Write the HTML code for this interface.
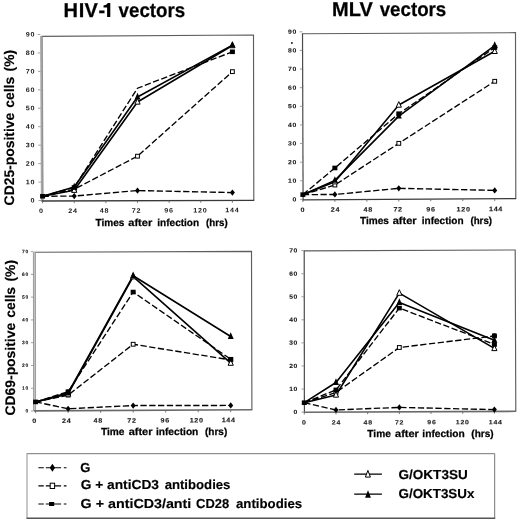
<!DOCTYPE html>
<html><head><meta charset="utf-8"><title>Figure</title>
<style>
html,body{margin:0;padding:0;background:#fff;}
body{width:520px;height:523px;overflow:hidden;font-family:"Liberation Sans",sans-serif;}
svg{display:block;will-change:transform;}
text{font-family:"Liberation Sans",sans-serif;fill:#000;text-rendering:geometricPrecision;}
.tk{font-weight:bold;fill:#1a1a1a;letter-spacing:0.65px;}
.tkb{stroke:#111;stroke-width:0.1px;}
.ti{font-weight:bold;font-size:20px;stroke:#000;stroke-width:0.25px;}
.ax{font-weight:bold;font-size:10.2px;stroke:#000;stroke-width:0.25px;}
.yl{font-weight:bold;font-size:13.9px;stroke:#000;stroke-width:0.15px;}
.lg{font-weight:bold;font-size:13px;stroke:#000;stroke-width:0.15px;}
.ds{fill:none;stroke:#000;stroke-width:1.35;stroke-dasharray:6.3 2.5;}
.sl{fill:none;stroke:#000;stroke-width:1.6;stroke-linejoin:round;}
</style></head><body>
<svg width="520" height="523" viewBox="0 0 520 523">
<rect width="520" height="523" fill="#fff"/>
<g transform="rotate(0.02)"><text x="63.5" y="17.1" class="ti">H<tspan dx="0.8">I</tspan><tspan dx="0.3">V</tspan><tspan dx="1.7">-</tspan></text></g>
<path d="M110.3 2.9V17.1H107.1V7.5H103.5V5.4Q106.7 5 107.9 2.9Z" fill="#000"/>
<g transform="rotate(0.02)"><text x="118.6" y="17.1" class="ti" textLength="66.6" lengthAdjust="spacingAndGlyphs">vectors</text></g>
<g transform="rotate(0.02)"><text x="332.1" y="16" class="ti">MLV</text></g>
<g transform="rotate(0.02)"><text x="379.7" y="16" class="ti" textLength="66.6" lengthAdjust="spacingAndGlyphs">vectors</text></g>
<text class="yl" transform="translate(13.8 205.4) rotate(-90.02)" >CD25-positive <tspan dx="1.2">cells </tspan><tspan dx="1.5">(%)</tspan></text>
<text class="yl" transform="translate(15 415.5) rotate(-90.02)" >CD69-positive <tspan dx="1.2">cells </tspan><tspan dx="1.5">(%)</tspan></text>
<g transform="rotate(0.02)"><text x="95.60" y="225.50" class="ax" textLength="28.90" lengthAdjust="spacingAndGlyphs">Times</text></g>
<g transform="rotate(0.02)"><text x="128.40" y="225.50" class="ax" textLength="23.90" lengthAdjust="spacingAndGlyphs">after</text></g>
<g transform="rotate(0.02)"><text x="157.40" y="225.50" class="ax" textLength="41.80" lengthAdjust="spacingAndGlyphs">infection</text></g>
<g transform="rotate(0.02)"><text x="206.10" y="225.50" class="ax" textLength="21.60" lengthAdjust="spacingAndGlyphs">(hrs)</text></g>
<g transform="rotate(0.02)"><text x="360.00" y="223.80" class="ax" textLength="28.90" lengthAdjust="spacingAndGlyphs">Times</text></g>
<g transform="rotate(0.02)"><text x="392.80" y="223.80" class="ax" textLength="23.90" lengthAdjust="spacingAndGlyphs">after</text></g>
<g transform="rotate(0.02)"><text x="421.80" y="223.80" class="ax" textLength="41.80" lengthAdjust="spacingAndGlyphs">infection</text></g>
<g transform="rotate(0.02)"><text x="470.50" y="223.80" class="ax" textLength="21.60" lengthAdjust="spacingAndGlyphs">(hrs)</text></g>
<g transform="rotate(0.02)"><text x="101.10" y="434.60" class="ax" textLength="23.50" lengthAdjust="spacingAndGlyphs">Time</text></g>
<g transform="rotate(0.02)"><text x="128.80" y="434.60" class="ax" textLength="23.80" lengthAdjust="spacingAndGlyphs">after</text></g>
<g transform="rotate(0.02)"><text x="156.10" y="434.60" class="ax" textLength="42.40" lengthAdjust="spacingAndGlyphs">infection</text></g>
<g transform="rotate(0.02)"><text x="205.10" y="434.60" class="ax" textLength="22.30" lengthAdjust="spacingAndGlyphs">(hrs)</text></g>
<g transform="rotate(0.02)"><text x="367.50" y="436.60" class="ax" textLength="23.50" lengthAdjust="spacingAndGlyphs">Time</text></g>
<g transform="rotate(0.02)"><text x="395.20" y="436.60" class="ax" textLength="23.80" lengthAdjust="spacingAndGlyphs">after</text></g>
<g transform="rotate(0.02)"><text x="422.50" y="436.60" class="ax" textLength="42.40" lengthAdjust="spacingAndGlyphs">infection</text></g>
<g transform="rotate(0.02)"><text x="471.50" y="436.60" class="ax" textLength="22.30" lengthAdjust="spacingAndGlyphs">(hrs)</text></g>
<g id="plotA">
<path d="M41.3 36.4L253.5 35L253.8 200.4" fill="none" stroke="#5e5e5e" stroke-width="1.15"/>
<path d="M41.3 36L42.1 201.4" fill="none" stroke="#a6a6a6" stroke-width="2.4"/>
<path d="M42.3 36.4L43.1 201" fill="none" stroke="#7c7c7c" stroke-width="0.7"/>
<path d="M41.6 201L254.2 200.4" fill="none" stroke="#3a3a3a" stroke-width="1.3"/>
<path d="M42.6 201v2.2" stroke="#666" stroke-width="0.9"/>
<path d="M74.23 200.91v2.2" stroke="#666" stroke-width="0.9"/>
<path d="M105.86 200.82v2.2" stroke="#666" stroke-width="0.9"/>
<path d="M137.5 200.73v2.2" stroke="#666" stroke-width="0.9"/>
<path d="M169.13 200.64v2.2" stroke="#666" stroke-width="0.9"/>
<path d="M200.76 200.55v2.2" stroke="#666" stroke-width="0.9"/>
<path d="M232.39 200.46v2.2" stroke="#666" stroke-width="0.9"/>
<path d="M41.1 200.5h-2.6" stroke="#888" stroke-width="0.8"/>
<path d="M41.01 182.05h-2.6" stroke="#888" stroke-width="0.8"/>
<path d="M40.92 163.6h-2.6" stroke="#888" stroke-width="0.8"/>
<path d="M40.83 145.15h-2.6" stroke="#888" stroke-width="0.8"/>
<path d="M40.74 126.7h-2.6" stroke="#888" stroke-width="0.8"/>
<path d="M40.66 108.25h-2.6" stroke="#888" stroke-width="0.8"/>
<path d="M40.57 89.8h-2.6" stroke="#888" stroke-width="0.8"/>
<path d="M40.48 71.35h-2.6" stroke="#888" stroke-width="0.8"/>
<path d="M40.39 52.9h-2.6" stroke="#888" stroke-width="0.8"/>
<path d="M40.3 34.45h-2.6" stroke="#888" stroke-width="0.8"/>
<text transform="translate(35.2 202.6) rotate(0.03) scale(1.12 1)" font-size="6.4" text-anchor="end" class="tk">0</text>
<text transform="translate(35.2 184.15) rotate(0.03) scale(1.12 1)" font-size="6.4" text-anchor="end" class="tk">10</text>
<text transform="translate(35.2 165.7) rotate(0.03) scale(1.12 1)" font-size="6.4" text-anchor="end" class="tk">20</text>
<text transform="translate(35.2 147.25) rotate(0.03) scale(1.12 1)" font-size="6.4" text-anchor="end" class="tk">30</text>
<text transform="translate(35.2 128.8) rotate(0.03) scale(1.12 1)" font-size="6.4" text-anchor="end" class="tk">40</text>
<text transform="translate(35.2 110.35) rotate(0.03) scale(1.12 1)" font-size="6.4" text-anchor="end" class="tk">50</text>
<text transform="translate(35.2 91.9) rotate(0.03) scale(1.12 1)" font-size="6.4" text-anchor="end" class="tk">60</text>
<text transform="translate(35.2 73.45) rotate(0.03) scale(1.12 1)" font-size="6.4" text-anchor="end" class="tk">70</text>
<text transform="translate(35.2 55) rotate(0.03) scale(1.12 1)" font-size="6.4" text-anchor="end" class="tk">80</text>
<text transform="translate(35.2 36.55) rotate(0.03) scale(1.12 1)" font-size="6.4" text-anchor="end" class="tk">90</text>
<text transform="translate(41.3 213.1) rotate(0.03) scale(1.12 1)" font-size="6.4" text-anchor="middle" class="tk">0</text>
<text transform="translate(72.9 212.97) rotate(0.03) scale(1.12 1)" font-size="6.4" text-anchor="middle" class="tk">24</text>
<text transform="translate(104.4 212.84) rotate(0.03) scale(1.12 1)" font-size="6.4" text-anchor="middle" class="tk">48</text>
<text transform="translate(136.4 212.7) rotate(0.03) scale(1.12 1)" font-size="6.4" text-anchor="middle" class="tk">72</text>
<text transform="translate(168.9 212.57) rotate(0.03) scale(1.12 1)" font-size="6.4" text-anchor="middle" class="tk">96</text>
<text transform="translate(200.4 212.44) rotate(0.03) scale(1.12 1)" font-size="6.4" text-anchor="middle" class="tk">120</text>
<text transform="translate(232.4 212.3) rotate(0.03) scale(1.12 1)" font-size="6.4" text-anchor="middle" class="tk">144</text>
<path d="M42.6 196.26L74.23 196.07L137.5 190.56L232.39 192.58" class="ds"/>
<path d="M42.6 196.26L74.23 189.27L137.5 156.19L232.39 71.64" class="ds"/>
<path d="M42.6 196.26L74.23 187.43L137.5 88.18L232.39 51.79" class="ds"/>
<path d="M42.6 196.26L74.23 190.19L137.5 101.97L232.39 45.54" class="sl"/>
<path d="M42.6 196.26L74.23 187.07L137.5 97L232.39 45.17" class="sl"/>
<path d="M71.73 196.07L74.23 192.97L76.73 196.07L74.23 199.17Z" fill="#000"/>
<path d="M135 190.56L137.5 187.46L140 190.56L137.5 193.66Z" fill="#000"/>
<path d="M229.89 192.58L232.39 189.48L234.89 192.58L232.39 195.68Z" fill="#000"/>
<rect x="72.33" y="187.37" width="3.8" height="3.8" fill="#fff" stroke="#000" stroke-width="1"/>
<rect x="135.6" y="154.29" width="3.8" height="3.8" fill="#fff" stroke="#000" stroke-width="1"/>
<rect x="230.49" y="69.74" width="3.8" height="3.8" fill="#fff" stroke="#000" stroke-width="1"/>
<path d="M74.23 186.79L76.83 192.39L71.63 192.39Z" fill="#fff" stroke="#000" stroke-width="1"/>
<path d="M137.5 98.57L140.1 104.17L134.9 104.17Z" fill="#fff" stroke="#000" stroke-width="1"/>
<path d="M232.39 42.14L234.99 47.74L229.79 47.74Z" fill="#fff" stroke="#000" stroke-width="1"/>
<path d="M74.23 182.87L77.23 189.47L71.23 189.47Z" fill="#000"/>
<path d="M137.5 92.8L140.5 99.4L134.5 99.4Z" fill="#000"/>
<path d="M232.39 40.97L235.39 47.57L229.39 47.57Z" fill="#000"/>
<rect x="40.1" y="193.96" width="5" height="4.6" fill="#000"/>
<rect x="71.73" y="185.13" width="5" height="4.6" fill="#000"/>
<rect x="229.89" y="49.49" width="5" height="4.6" fill="#000"/>
</g>
<g id="plotB">
<path d="M302.5 33.7L515.5 32.7L515.8 198.6" fill="none" stroke="#5e5e5e" stroke-width="1.15"/>
<path d="M302.5 33.3L303.1 200.2" fill="none" stroke="#4a4a4a" stroke-width="1.2"/>
<path d="M302.6 199.8L516.2 198.6" fill="none" stroke="#3a3a3a" stroke-width="1.3"/>
<path d="M302.9 199.8v2.2" stroke="#666" stroke-width="0.9"/>
<path d="M334.87 199.62v2.2" stroke="#666" stroke-width="0.9"/>
<path d="M366.84 199.44v2.2" stroke="#666" stroke-width="0.9"/>
<path d="M398.8 199.26v2.2" stroke="#666" stroke-width="0.9"/>
<path d="M430.77 199.08v2.2" stroke="#666" stroke-width="0.9"/>
<path d="M462.74 198.9v2.2" stroke="#666" stroke-width="0.9"/>
<path d="M494.71 198.72v2.2" stroke="#666" stroke-width="0.9"/>
<path d="M302.8 199.4h-2.6" stroke="#888" stroke-width="0.8"/>
<path d="M302.73 180.78h-2.6" stroke="#888" stroke-width="0.8"/>
<path d="M302.67 162.16h-2.6" stroke="#888" stroke-width="0.8"/>
<path d="M302.6 143.54h-2.6" stroke="#888" stroke-width="0.8"/>
<path d="M302.53 124.92h-2.6" stroke="#888" stroke-width="0.8"/>
<path d="M302.47 106.3h-2.6" stroke="#888" stroke-width="0.8"/>
<path d="M302.4 87.68h-2.6" stroke="#888" stroke-width="0.8"/>
<path d="M302.33 69.06h-2.6" stroke="#888" stroke-width="0.8"/>
<path d="M302.27 50.44h-2.6" stroke="#888" stroke-width="0.8"/>
<path d="M302.2 31.82h-2.6" stroke="#888" stroke-width="0.8"/>
<text transform="translate(297 201.4) rotate(0.03) scale(1.12 1)" font-size="6.1" text-anchor="end" class="tk tkb">0</text>
<text transform="translate(297 182.78) rotate(0.03) scale(1.12 1)" font-size="6.1" text-anchor="end" class="tk tkb">10</text>
<text transform="translate(297 164.16) rotate(0.03) scale(1.12 1)" font-size="6.1" text-anchor="end" class="tk tkb">20</text>
<text transform="translate(297 145.54) rotate(0.03) scale(1.12 1)" font-size="6.1" text-anchor="end" class="tk tkb">30</text>
<text transform="translate(297 126.92) rotate(0.03) scale(1.12 1)" font-size="6.1" text-anchor="end" class="tk tkb">40</text>
<text transform="translate(297 108.3) rotate(0.03) scale(1.12 1)" font-size="6.1" text-anchor="end" class="tk tkb">50</text>
<text transform="translate(297 89.68) rotate(0.03) scale(1.12 1)" font-size="6.1" text-anchor="end" class="tk tkb">60</text>
<text transform="translate(297 71.06) rotate(0.03) scale(1.12 1)" font-size="6.1" text-anchor="end" class="tk tkb">70</text>
<text transform="translate(297 52.44) rotate(0.03) scale(1.12 1)" font-size="6.1" text-anchor="end" class="tk tkb">80</text>
<text transform="translate(297 33.82) rotate(0.03) scale(1.12 1)" font-size="6.1" text-anchor="end" class="tk tkb">90</text>
<text transform="translate(302.9 211.9) rotate(0.03) scale(1.12 1)" font-size="6.4" text-anchor="middle" class="tk tkb">0</text>
<text transform="translate(335.4 211.8) rotate(0.03) scale(1.12 1)" font-size="6.4" text-anchor="middle" class="tk tkb">24</text>
<text transform="translate(368.2 211.7) rotate(0.03) scale(1.12 1)" font-size="6.4" text-anchor="middle" class="tk tkb">48</text>
<text transform="translate(398.1 211.6) rotate(0.03) scale(1.12 1)" font-size="6.4" text-anchor="middle" class="tk tkb">72</text>
<text transform="translate(431 211.5) rotate(0.03) scale(1.12 1)" font-size="6.4" text-anchor="middle" class="tk tkb">96</text>
<text transform="translate(463.6 211.4) rotate(0.03) scale(1.12 1)" font-size="6.4" text-anchor="middle" class="tk tkb">120</text>
<text transform="translate(496 211.3) rotate(0.03) scale(1.12 1)" font-size="6.4" text-anchor="middle" class="tk tkb">144</text>
<path d="M302.9 194.64L334.87 194.46L398.8 188.34L494.71 190.38" class="ds"/>
<path d="M302.9 194.64L334.87 185.01L398.8 143.34L494.71 81.3" class="ds"/>
<path d="M302.9 194.64L334.87 167.97L398.8 113.71L494.71 47.59" class="ds"/>
<path d="M302.9 194.64L334.87 181.68L398.8 105L494.71 51.3" class="sl"/>
<path d="M302.9 194.64L334.87 180.38L398.8 116.12L494.71 45.55" class="sl"/>
<path d="M332.37 194.46L334.87 191.36L337.37 194.46L334.87 197.56Z" fill="#000"/>
<path d="M396.3 188.34L398.8 185.24L401.3 188.34L398.8 191.44Z" fill="#000"/>
<path d="M492.21 190.38L494.71 187.28L497.21 190.38L494.71 193.48Z" fill="#000"/>
<rect x="332.97" y="183.11" width="3.8" height="3.8" fill="#fff" stroke="#000" stroke-width="1"/>
<rect x="396.9" y="141.44" width="3.8" height="3.8" fill="#fff" stroke="#000" stroke-width="1"/>
<rect x="492.81" y="79.4" width="3.8" height="3.8" fill="#fff" stroke="#000" stroke-width="1"/>
<path d="M334.87 178.28L337.47 183.88L332.27 183.88Z" fill="#fff" stroke="#000" stroke-width="1"/>
<path d="M398.8 101.6L401.4 107.2L396.2 107.2Z" fill="#fff" stroke="#000" stroke-width="1"/>
<path d="M494.71 47.9L497.31 53.5L492.11 53.5Z" fill="#fff" stroke="#000" stroke-width="1"/>
<path d="M334.87 176.18L337.87 182.78L331.87 182.78Z" fill="#000"/>
<path d="M398.8 111.92L401.8 118.52L395.8 118.52Z" fill="#000"/>
<path d="M494.71 41.35L497.71 47.95L491.71 47.95Z" fill="#000"/>
<rect x="300.4" y="192.34" width="5" height="4.6" fill="#000"/>
<rect x="332.37" y="165.67" width="5" height="4.6" fill="#000"/>
<rect x="396.3" y="111.41" width="5" height="4.6" fill="#000"/>
<rect x="492.21" y="45.29" width="5" height="4.6" fill="#000"/>
</g>
<g id="plotC">
<path d="M34.4 252.2L251.5 251.4L251.9 409.8" fill="none" stroke="#5e5e5e" stroke-width="1.15"/>
<path d="M34.4 251.8L34.6 411.3" fill="none" stroke="#c4c4c4" stroke-width="2.4"/>
<path d="M35.4 252.2L35.6 410.9" fill="none" stroke="#858585" stroke-width="0.7"/>
<path d="M33.4 252.2L33.6 410.9" fill="none" stroke="#858585" stroke-width="0.7"/>
<path d="M34.1 410.9L252.3 409.8" fill="none" stroke="#6a6a6a" stroke-width="1.6"/>
<path d="M35.6 410.9v2.2" stroke="#666" stroke-width="0.9"/>
<path d="M68.12 410.73v2.2" stroke="#666" stroke-width="0.9"/>
<path d="M100.64 410.57v2.2" stroke="#666" stroke-width="0.9"/>
<path d="M133.16 410.4v2.2" stroke="#666" stroke-width="0.9"/>
<path d="M165.68 410.24v2.2" stroke="#666" stroke-width="0.9"/>
<path d="M198.2 410.07v2.2" stroke="#666" stroke-width="0.9"/>
<path d="M230.72 409.91v2.2" stroke="#666" stroke-width="0.9"/>
<path d="M33.6 411h-2.6" stroke="#888" stroke-width="0.8"/>
<path d="M33.57 388.23h-2.6" stroke="#888" stroke-width="0.8"/>
<path d="M33.54 365.46h-2.6" stroke="#888" stroke-width="0.8"/>
<path d="M33.51 342.69h-2.6" stroke="#888" stroke-width="0.8"/>
<path d="M33.49 319.92h-2.6" stroke="#888" stroke-width="0.8"/>
<path d="M33.46 297.15h-2.6" stroke="#888" stroke-width="0.8"/>
<path d="M33.43 274.38h-2.6" stroke="#888" stroke-width="0.8"/>
<path d="M33.4 251.61h-2.6" stroke="#888" stroke-width="0.8"/>
<text transform="translate(28.8 412.56) rotate(0.03) scale(1.0 1)" font-size="4.9" text-anchor="end" class="tk tkb">0</text>
<text transform="translate(28.8 389.79) rotate(0.03) scale(1.0 1)" font-size="4.9" text-anchor="end" class="tk tkb">10</text>
<text transform="translate(28.8 367.02) rotate(0.03) scale(1.0 1)" font-size="4.9" text-anchor="end" class="tk tkb">20</text>
<text transform="translate(28.8 344.25) rotate(0.03) scale(1.0 1)" font-size="4.9" text-anchor="end" class="tk tkb">30</text>
<text transform="translate(28.8 321.48) rotate(0.03) scale(1.0 1)" font-size="4.9" text-anchor="end" class="tk tkb">40</text>
<text transform="translate(28.8 298.71) rotate(0.03) scale(1.0 1)" font-size="4.9" text-anchor="end" class="tk tkb">50</text>
<text transform="translate(28.8 275.94) rotate(0.03) scale(1.0 1)" font-size="4.9" text-anchor="end" class="tk tkb">60</text>
<text transform="translate(28.8 253.17) rotate(0.03) scale(1.0 1)" font-size="4.9" text-anchor="end" class="tk tkb">70</text>
<text transform="translate(34.6 423.1) rotate(0.03) scale(1.12 1)" font-size="6.4" text-anchor="middle" class="tk tkb">0</text>
<text transform="translate(66.7 422.97) rotate(0.03) scale(1.12 1)" font-size="6.4" text-anchor="middle" class="tk tkb">24</text>
<text transform="translate(98.2 422.84) rotate(0.03) scale(1.12 1)" font-size="6.4" text-anchor="middle" class="tk tkb">48</text>
<text transform="translate(131.9 422.7) rotate(0.03) scale(1.12 1)" font-size="6.4" text-anchor="middle" class="tk tkb">72</text>
<text transform="translate(165.2 422.57) rotate(0.03) scale(1.12 1)" font-size="6.4" text-anchor="middle" class="tk tkb">96</text>
<text transform="translate(196.7 422.44) rotate(0.03) scale(1.12 1)" font-size="6.4" text-anchor="middle" class="tk tkb">120</text>
<text transform="translate(228.7 422.3) rotate(0.03) scale(1.12 1)" font-size="6.4" text-anchor="middle" class="tk tkb">144</text>
<path d="M35.6 401.92L68.12 408.73L133.16 405.55L230.72 405.44" class="ds"/>
<path d="M35.6 401.92L68.12 395.11L133.16 344.26L230.72 359.93" class="ds"/>
<path d="M35.6 401.92L68.12 391.7L133.16 292.05L230.72 359.24" class="ds"/>
<path d="M35.6 401.92L68.12 393.98L133.16 276.62L230.72 363.1" class="sl"/>
<path d="M35.6 401.92L68.12 392.84L133.16 275.71L230.72 336.54" class="sl"/>
<path d="M65.62 408.73L68.12 405.63L70.62 408.73L68.12 411.83Z" fill="#000"/>
<path d="M130.66 405.55L133.16 402.45L135.66 405.55L133.16 408.65Z" fill="#000"/>
<path d="M228.22 405.44L230.72 402.34L233.22 405.44L230.72 408.54Z" fill="#000"/>
<rect x="66.22" y="393.21" width="3.8" height="3.8" fill="#fff" stroke="#000" stroke-width="1"/>
<rect x="131.26" y="342.36" width="3.8" height="3.8" fill="#fff" stroke="#000" stroke-width="1"/>
<rect x="228.82" y="358.03" width="3.8" height="3.8" fill="#fff" stroke="#000" stroke-width="1"/>
<path d="M68.12 390.58L70.72 396.18L65.52 396.18Z" fill="#fff" stroke="#000" stroke-width="1"/>
<path d="M133.16 273.22L135.76 278.82L130.56 278.82Z" fill="#fff" stroke="#000" stroke-width="1"/>
<path d="M230.72 359.7L233.32 365.3L228.12 365.3Z" fill="#fff" stroke="#000" stroke-width="1"/>
<path d="M68.12 388.64L71.12 395.24L65.12 395.24Z" fill="#000"/>
<path d="M133.16 271.51L136.16 278.11L130.16 278.11Z" fill="#000"/>
<path d="M230.72 332.34L233.72 338.94L227.72 338.94Z" fill="#000"/>
<rect x="33.1" y="399.62" width="5" height="4.6" fill="#000"/>
<rect x="65.62" y="389.4" width="5" height="4.6" fill="#000"/>
<rect x="130.66" y="289.75" width="5" height="4.6" fill="#000"/>
<rect x="228.22" y="356.94" width="5" height="4.6" fill="#000"/>
</g>
<g id="plotD">
<path d="M304.2 250.8L515.2 250L515.8 411.3" fill="none" stroke="#5e5e5e" stroke-width="1.15"/>
<path d="M304.2 250.4L304.4 412.7" fill="none" stroke="#4a4a4a" stroke-width="1.2"/>
<path d="M303.9 412.3L516.2 411.3" fill="none" stroke="#6a6a6a" stroke-width="1.6"/>
<path d="M304.3 412.3v2.2" stroke="#666" stroke-width="0.9"/>
<path d="M335.98 412.15v2.2" stroke="#666" stroke-width="0.9"/>
<path d="M367.66 412v2.2" stroke="#666" stroke-width="0.9"/>
<path d="M399.34 411.85v2.2" stroke="#666" stroke-width="0.9"/>
<path d="M431.02 411.7v2.2" stroke="#666" stroke-width="0.9"/>
<path d="M462.7 411.55v2.2" stroke="#666" stroke-width="0.9"/>
<path d="M494.38 411.4v2.2" stroke="#666" stroke-width="0.9"/>
<path d="M304.1 412.1h-2.6" stroke="#888" stroke-width="0.8"/>
<path d="M304.07 389.03h-2.6" stroke="#888" stroke-width="0.8"/>
<path d="M304.04 365.96h-2.6" stroke="#888" stroke-width="0.8"/>
<path d="M304.01 342.89h-2.6" stroke="#888" stroke-width="0.8"/>
<path d="M303.99 319.82h-2.6" stroke="#888" stroke-width="0.8"/>
<path d="M303.96 296.75h-2.6" stroke="#888" stroke-width="0.8"/>
<path d="M303.93 273.68h-2.6" stroke="#888" stroke-width="0.8"/>
<path d="M303.9 250.61h-2.6" stroke="#888" stroke-width="0.8"/>
<text transform="translate(298.1 414.06) rotate(0.03) scale(1.12 1)" font-size="6" text-anchor="end" class="tk tkb">0</text>
<text transform="translate(298.1 390.99) rotate(0.03) scale(1.12 1)" font-size="6" text-anchor="end" class="tk tkb">10</text>
<text transform="translate(298.1 367.92) rotate(0.03) scale(1.12 1)" font-size="6" text-anchor="end" class="tk tkb">20</text>
<text transform="translate(298.1 344.85) rotate(0.03) scale(1.12 1)" font-size="6" text-anchor="end" class="tk tkb">30</text>
<text transform="translate(298.1 321.78) rotate(0.03) scale(1.12 1)" font-size="6" text-anchor="end" class="tk tkb">40</text>
<text transform="translate(298.1 298.71) rotate(0.03) scale(1.12 1)" font-size="6" text-anchor="end" class="tk tkb">50</text>
<text transform="translate(298.1 275.64) rotate(0.03) scale(1.12 1)" font-size="6" text-anchor="end" class="tk tkb">60</text>
<text transform="translate(298.1 252.57) rotate(0.03) scale(1.12 1)" font-size="6" text-anchor="end" class="tk tkb">70</text>
<text transform="translate(304.2 424.53) rotate(0.03) scale(1.12 1)" font-size="6.2" text-anchor="middle" class="tk tkb">0</text>
<text transform="translate(336.4 424.48) rotate(0.03) scale(1.12 1)" font-size="6.2" text-anchor="middle" class="tk tkb">24</text>
<text transform="translate(368.2 424.43) rotate(0.03) scale(1.12 1)" font-size="6.2" text-anchor="middle" class="tk tkb">48</text>
<text transform="translate(399.6 424.38) rotate(0.03) scale(1.12 1)" font-size="6.2" text-anchor="middle" class="tk tkb">72</text>
<text transform="translate(431.9 424.33) rotate(0.03) scale(1.12 1)" font-size="6.2" text-anchor="middle" class="tk tkb">96</text>
<text transform="translate(462.7 424.28) rotate(0.03) scale(1.12 1)" font-size="6.2" text-anchor="middle" class="tk tkb">120</text>
<text transform="translate(495.7 424.23) rotate(0.03) scale(1.12 1)" font-size="6.2" text-anchor="middle" class="tk tkb">144</text>
<path d="M304.3 402.7L335.98 409.96L399.34 407.42L494.38 409.61" class="ds"/>
<path d="M304.3 402.7L335.98 392.44L399.34 347.49L494.38 335.97" class="ds"/>
<path d="M304.3 402.7L335.98 389.9L399.34 308.07L494.38 344.49" class="ds"/>
<path d="M304.3 402.7L335.98 394.97L399.34 293.09L494.38 348.41" class="sl"/>
<path d="M304.3 402.7L335.98 382.53L399.34 302.54L494.38 340.35" class="sl"/>
<path d="M333.48 409.96L335.98 406.86L338.48 409.96L335.98 413.06Z" fill="#000"/>
<path d="M396.84 407.42L399.34 404.32L401.84 407.42L399.34 410.52Z" fill="#000"/>
<path d="M491.88 409.61L494.38 406.51L496.88 409.61L494.38 412.71Z" fill="#000"/>
<rect x="334.08" y="390.54" width="3.8" height="3.8" fill="#fff" stroke="#000" stroke-width="1"/>
<rect x="397.44" y="345.59" width="3.8" height="3.8" fill="#fff" stroke="#000" stroke-width="1"/>
<rect x="492.48" y="334.07" width="3.8" height="3.8" fill="#fff" stroke="#000" stroke-width="1"/>
<path d="M335.98 391.57L338.58 397.17L333.38 397.17Z" fill="#fff" stroke="#000" stroke-width="1"/>
<path d="M399.34 289.69L401.94 295.29L396.74 295.29Z" fill="#fff" stroke="#000" stroke-width="1"/>
<path d="M494.38 345.01L496.98 350.61L491.78 350.61Z" fill="#fff" stroke="#000" stroke-width="1"/>
<path d="M335.98 378.33L338.98 384.93L332.98 384.93Z" fill="#000"/>
<path d="M399.34 298.34L402.34 304.94L396.34 304.94Z" fill="#000"/>
<path d="M494.38 336.15L497.38 342.75L491.38 342.75Z" fill="#000"/>
<rect x="301.8" y="400.4" width="5" height="4.6" fill="#000"/>
<rect x="333.48" y="387.6" width="5" height="4.6" fill="#000"/>
<rect x="396.84" y="305.77" width="5" height="4.6" fill="#000"/>
<rect x="491.88" y="342.19" width="5" height="4.6" fill="#000"/>
</g>
<g id="legend">
<path d="M27 453.7H494.7V518.3" fill="none" stroke="#777" stroke-width="1"/>
<path d="M27 453.3V518.3" fill="none" stroke="#999" stroke-width="1.1"/>
<path d="M26.5 518.3H495.2" fill="none" stroke="#555" stroke-width="1.4"/>
<path d="M38.4 467.7H43.8M45.8 467.7H61.1M63.8 467.7H66.5M38.4 485.9H43.8M45.8 485.9H61.1M63.8 485.9H66.5M38.4 504H43.8M45.8 504H61.1M63.8 504H66.5" fill="none" stroke="#000" stroke-width="1.15"/>
<path d="M49.7 467.7L52.4 463.7L55.1 467.7L52.4 471.7Z" fill="#000"/>
<rect x="50.2" y="483.2" width="4.4" height="5.3" fill="#fff" stroke="#000" stroke-width="1"/>
<rect x="49.1" y="502" width="5.1" height="4" fill="#000"/>
<g transform="rotate(0.02)"><text x="80.4" y="471.8" class="lg">G</text></g>
<g transform="rotate(0.02)"><text x="80.8" y="489.3" class="lg" textLength="78.4" lengthAdjust="spacingAndGlyphs">G + antiCD3</text></g>
<g transform="rotate(0.02)"><text x="164.8" y="489.3" class="lg" textLength="65.8" lengthAdjust="spacingAndGlyphs">antibodies</text></g>
<g transform="rotate(0.02)"><text x="80.8" y="507.6" class="lg" textLength="110.7" lengthAdjust="spacingAndGlyphs">G + antiCD3/anti</text></g>
<g transform="rotate(0.02)"><text x="196.2" y="507.6" class="lg" textLength="33.2" lengthAdjust="spacingAndGlyphs">CD28</text></g>
<g transform="rotate(0.02)"><text x="236.2" y="507.6" class="lg" textLength="66.1" lengthAdjust="spacingAndGlyphs">antibodies</text></g>
<path d="M354.2 474.1H381.9M354.2 494.1H381.9" fill="none" stroke="#000" stroke-width="1.4"/>
<path d="M367.9 470.4L370.4 477.1L365.4 477.1Z" fill="#fff" stroke="#000" stroke-width="1"/>
<path d="M368 490.2L370.9 497.7L365.1 497.7Z" fill="#000"/>
<g transform="rotate(0.02)"><text x="398.7" y="479.2" class="lg" textLength="69.2" lengthAdjust="spacingAndGlyphs">G/OKT3SU</text></g>
<g transform="rotate(0.02)"><text x="398.7" y="498" class="lg" textLength="75.9" lengthAdjust="spacingAndGlyphs">G/OKT3SUx</text></g>
</g>
<circle cx="291.9" cy="42.9" r="1" fill="#222"/>
<circle cx="494.4" cy="335.8" r="2.5" fill="#000"/>
</svg>
</body></html>
